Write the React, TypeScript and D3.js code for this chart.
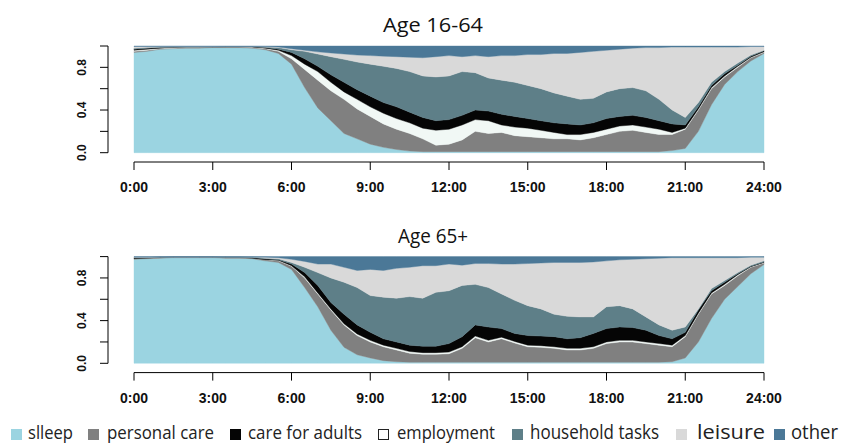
import React from "react";
import * as d3 from "d3";

// time points (hours), every 30 minutes
const hours = [0,0.5,1,1.5,2,2.5,3,3.5,4,4.5,5,5.5,6,6.5,7,7.5,8,8.5,9,9.5,10,10.5,11,11.5,12,12.5,13,13.5,14,14.5,15,15.5,16,16.5,17,17.5,18,18.5,19,19.5,20,20.5,21,21.5,22,22.5,23,23.5,24];

const xTickHours = [0,3,6,9,12,15,18,21,24];
const xTickLabels = ["0:00","3:00","6:00","9:00","12:00","15:00","18:00","21:00","24:00"];
const yTicks = [0,0.2,0.4,0.6,0.8,1];
const yTickLabels = ["0.0","","0.4","","0.8",""];

const panelTitles = ["Age 16-64","Age 65+"];

// Age 16-64 shares
const sleepA = [.94,.95,.97,.975,.98,.98,.985,.985,.985,.98,.965,.93,
  .83,.61,.42,.30,.18,.13,.08,.05,.03,.015,.01,.01,
  .01,.01,.01,.01,.01,.01,.01,.01,.01,.01,.01,.01,
  .01,.01,.01,.01,.01,.02,.04,.20,.45,.64,.76,.86,.93];
const personalA = [.01,.01,.005,.005,.005,.005,.005,.005,.005,.005,.01,.02,
  .05,.17,.26,.28,.32,.28,.26,.22,.19,.165,.12,.06,
  .07,.11,.19,.17,.18,.15,.14,.13,.12,.12,.11,.13,
  .16,.19,.20,.18,.16,.15,.18,.20,.15,.07,.04,.03,.01];
const employA = [.01,.01,.005,.005,.005,.005,0,0,0,.005,.005,.01,
  .03,.05,.08,.08,.07,.09,.09,.10,.10,.10,.10,.14,
  .14,.14,.11,.12,.07,.08,.08,.07,.06,.04,.05,.05,
  .05,.05,.05,.05,.05,.02,.01,.01,.01,.01,.01,.005,.005];
const careA = [.01,.01,.005,.005,0,0,0,.005,.005,.005,.005,.01,
  .03,.05,.05,.07,.09,.09,.10,.10,.11,.10,.10,.09,
  .09,.09,.09,.09,.10,.10,.09,.09,.09,.10,.09,.09,
  .10,.09,.09,.09,.08,.08,.03,.02,.02,.02,.01,.01,.01];
const householdA = [.01,.005,.005,0,0,0,0,0,0,0,.005,.015,
  .025,.07,.115,.17,.215,.26,.30,.34,.36,.38,.39,.41,
  .41,.41,.35,.31,.32,.32,.31,.30,.28,.26,.24,.23,
  .25,.26,.26,.25,.20,.13,.07,.04,.03,.02,.02,.01,.005];
const leisureA = [.015,.01,.005,.005,.005,.005,.005,0,0,0,.005,.005,
  .01,.01,.02,.035,.05,.065,.08,.095,.11,.135,.17,.19,
  .19,.14,.16,.20,.23,.25,.29,.32,.37,.40,.44,.44,
  .39,.37,.37,.405,.485,.59,.66,.52,.33,.23,.15,.08,.035];
const otherA = [.005,.005,.005,.005,.005,.005,.005,.005,.005,.005,.005,.01,
  .025,.04,.055,.065,.075,.085,.09,.095,.10,.105,.11,.10,
  .09,.10,.09,.10,.09,.09,.08,.08,.07,.07,.06,.05,
  .04,.03,.02,.015,.015,.01,.01,.01,.01,.01,.01,.005,.005];

// Age 65+ shares
const sleepB = [.975,.98,.985,.99,.99,.99,.99,.985,.985,.98,.96,.945,
  .88,.71,.53,.31,.15,.08,.05,.025,.015,.01,.01,.01,
  .01,.01,.01,.01,.01,.01,.01,.01,.01,.01,.01,.01,
  .01,.01,.01,.01,.01,.015,.05,.20,.42,.60,.72,.84,.925];
const personalB = [.005,.005,.005,.005,.005,.005,.005,.005,.005,.005,.01,.015,
  .03,.09,.12,.19,.21,.18,.15,.13,.11,.085,.075,.075,
  .08,.13,.23,.19,.22,.18,.145,.14,.13,.115,.115,.13,
  .175,.19,.19,.175,.16,.14,.20,.26,.23,.13,.10,.06,.015];
const employB = [0,0,0,0,0,0,0,0,0,0,0,.005,
  .005,.01,.01,.01,.01,.015,.015,.015,.015,.015,.015,.015,
  .015,.015,.015,.015,.015,.015,.015,.015,.015,.015,.015,.015,
  .015,.015,.015,.015,.015,.015,.01,.01,.01,.01,.01,.005,.005];
const careB = [.01,.005,.005,0,0,0,0,.005,.005,.005,.01,.005,
  .015,.04,.07,.06,.09,.085,.075,.06,.06,.06,.06,.06,
  .08,.095,.105,.125,.08,.075,.09,.09,.095,.09,.10,.125,
  .125,.125,.12,.11,.075,.06,.03,.03,.02,.02,.01,.005,.005];
const householdB = [0,0,0,0,0,0,0,0,0,.005,.005,.01,
  .015,.05,.12,.23,.30,.35,.345,.39,.41,.455,.45,.505,
  .495,.48,.38,.37,.325,.31,.28,.255,.21,.21,.195,.155,
  .205,.20,.175,.125,.10,.08,.05,.01,.02,.015,.01,.01,.01];
const leisureB = [.005,.005,0,0,0,0,0,0,0,0,.01,.01,
  .03,.055,.08,.13,.14,.16,.245,.25,.28,.275,.305,.25,
  .25,.19,.195,.225,.28,.34,.395,.43,.485,.505,.51,.515,
  .43,.43,.465,.545,.625,.68,.65,.48,.29,.215,.14,.075,.035];
const otherB = [.005,.005,.005,.005,.005,.005,.005,.005,.005,.005,.005,.01,
  .025,.045,.07,.07,.10,.13,.12,.13,.11,.10,.085,.085,
  .07,.08,.065,.065,.07,.07,.065,.06,.055,.055,.055,.05,
  .04,.03,.025,.02,.015,.01,.01,.01,.01,.01,.01,.005,.005];

// stacking order (bottom to top) as drawn
const stackKeys = ["sleep","personal","employ","care","household","leisure","other"];
const colors: Record<string,string> = {
  sleep: "#9bd4e1",
  personal: "#808080",
  employ: "#f1f8f5",
  care: "#050505",
  household: "#5e7f88",
  leisure: "#d9d9d9",
  other: "#4b7897",
};

const legendKeys = ["sleep","personal","care","employ","household","leisure","other"];
const legendLabels = ["slleep","personal care","care for adults","employment","household tasks","leisure","other"];

function buildRows(s: number[][]) {
  return hours.map((h, i) => {
    const r: any = { h };
    stackKeys.forEach((k, j) => { r[k] = s[j][i]; });
    return r;
  });
}

const panels = [
  { title: panelTitles[0], rows: buildRows([sleepA, personalA, employA, careA, householdA, leisureA, otherA]) },
  { title: panelTitles[1], rows: buildRows([sleepB, personalB, employB, careB, householdB, leisureB, otherB]) },
];

export default function App() {
  const W = 846, H = 444;
  const x = d3.scaleLinear().domain([0, 24]).range([134, 764]);
  const stack = d3.stack<any>().keys(stackKeys).offset(d3.stackOffsetExpand);
  const offsets = [0, 210.6];
  const tickFont = "'Liberation Sans', Arial, sans-serif";

  // legend geometry
  const legendSq = [[11, 11], [88, 11], [230, 11], [378, 10], [512, 11], [676, 11], [774, 11]];
  const legendText = [[28, 45], [107, 107], [248, 114], [397, 98], [530, 129], [697, 68], [791, 47]];
  const legendSize = [18, 18, 18, 18, 20, 20, 20];

  return (
    <div style={{ position: "fixed", left: 0, top: 0 }}>
      <svg width={W} height={H} style={{ display: "block", background: "#fff" }}>
        {panels.map((p, pi) => {
          const off = offsets[pi];
          const y = d3.scaleLinear().domain([0, 1]).range([152.7 + off, 46 + off]);
          const series = stack(p.rows);
          const area = d3.area<any>()
            .x((d) => x(d.data.h))
            .y0((d) => y(d[0]))
            .y1((d) => y(d[1]))
            .curve(d3.curveLinear);
          const axisY = 162 + off;
          return (
            <g key={pi}>
              <text x={433} y={32 + off} textAnchor="middle" fontFamily="'Open Sans', sans-serif" fontSize={20} fill="#111"
                textLength={pi === 0 ? 100 : 70} lengthAdjust="spacingAndGlyphs">{p.title}</text>
              {series.map((s) => (
                <path key={s.key} d={area(s) || ""} fill={colors[s.key]} stroke={colors[s.key]} strokeWidth={0.4} />
              ))}
              {/* y axis */}
              <line x1={108} x2={108} y1={y(0)} y2={y(1)} stroke="#000" strokeWidth={1} />
              {yTicks.map((t, i) => (
                <g key={i}>
                  <line x1={100} x2={108} y1={y(t)} y2={y(t)} stroke="#000" strokeWidth={1} />
                  {yTickLabels[i] && (
                    <text transform={`translate(86,${y(t)}) rotate(-90)`} textAnchor="middle" fontFamily={tickFont}
                      fontWeight="bold" fontSize={12} fill="#111">{yTickLabels[i]}</text>
                  )}
                </g>
              ))}
              {/* x axis */}
              <line x1={x(0)} x2={x(24)} y1={axisY} y2={axisY} stroke="#000" strokeWidth={1} />
              {xTickHours.map((t, i) => (
                <g key={i}>
                  <line x1={x(t)} x2={x(t)} y1={axisY} y2={axisY + 8} stroke="#000" strokeWidth={1} />
                  <text x={x(t)} y={axisY + 30} textAnchor="middle" fontFamily={tickFont} fontWeight="bold"
                    fontSize={14} fill="#111">{xTickLabels[i]}</text>
                </g>
              ))}
            </g>
          );
        })}
        {/* legend */}
        {legendKeys.map((k, i) => (
          <g key={k}>
            <rect x={legendSq[i][0] + (k === "employ" ? 0.5 : 0)} y={429 + (k === "employ" ? 0.5 : 0)}
              width={legendSq[i][1]} height={legendSq[i][1]}
              fill={k === "employ" ? "#fff" : colors[k]} stroke={k === "employ" ? "#222" : "none"} strokeWidth={1} />
            <text x={legendText[i][0]} y={439} fontFamily="'Open Sans', sans-serif" fontSize={legendSize[i]} fill="#222"
              textLength={legendText[i][1]} lengthAdjust="spacingAndGlyphs">{legendLabels[i]}</text>
          </g>
        ))}
      </svg>
    </div>
  );
}
